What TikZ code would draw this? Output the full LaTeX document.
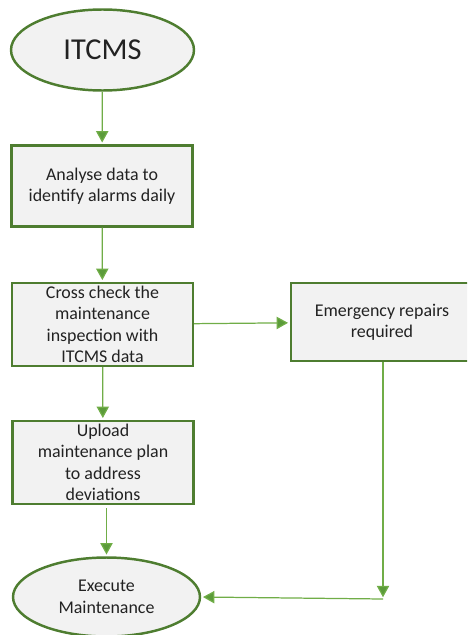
\documentclass[tikz,border=0pt]{standalone}
\usepackage{fontspec}
\setmainfont{Carlito}
\usepackage{tikz}
\usetikzlibrary{arrows.meta, shapes.geometric}
\definecolor{edgegreen}{HTML}{4E7D30}
\definecolor{linegreen}{HTML}{70AD47}
\definecolor{tipgreen}{HTML}{5B9B3A}
\definecolor{boxfill}{HTML}{F2F2F2}
\definecolor{txt}{HTML}{222222}

\begin{document}
\begin{tikzpicture}[x=0.02cm, y=-0.02cm,
    font=\fontsize{10.2}{12.2}\selectfont, text=txt,
    box/.style={draw=edgegreen, line width=1.4pt, fill=boxfill, align=center,
      minimum width=3.62cm, minimum height=1.62cm, inner sep=1pt},
    oval/.style={ellipse, draw=edgegreen, line width=1.4pt, fill=boxfill, align=center, inner sep=0pt},
    arr/.style={-{Triangle[width=7pt, length=6.5pt, fill=tipgreen]}, draw=linegreen, line width=0.7pt, shorten >=1pt}]
  \clip (0,0) rectangle (467,635);
  \node[oval, minimum width=3.66cm, minimum height=1.62cm, font=\fontsize{17.3}{20}\selectfont] (itcms) at (102.5,50) {ITCMS};
  \node[box] (analyse) at (102,186) {Analyse data to\\identify alarms daily};
  \node[box, minimum height=1.66cm] (cross) at (102.5,324.5) {Cross check the\\maintenance\\inspection with\\ITCMS data};
  \node[box, minimum width=3.64cm, minimum height=1.56cm] (emerg) at (382,322) {Emergency repairs\\required};
  \node[box, minimum height=1.66cm] (upload) at (103,462.5) {Upload\\maintenance plan\\to address\\deviations};
  \node[oval, minimum width=3.74cm, minimum height=1.58cm] (exec) at (106.5,597) {Execute\\Maintenance};
  \coordinate (corner) at (383,599);
  \draw[arr] (itcms) -- (analyse);
  \draw[arr] (analyse) -- (cross);
  \draw[arr] (cross) -- (emerg);
  \draw[arr] (cross) -- (upload);
  \draw[arr] (upload.south -| exec.north) ++(0,3) -- (exec.north);
  \draw[arr] (emerg.south -| corner) -- (corner);
  \draw[arr] (corner) -- (exec.east);
\end{tikzpicture}
\end{document}
